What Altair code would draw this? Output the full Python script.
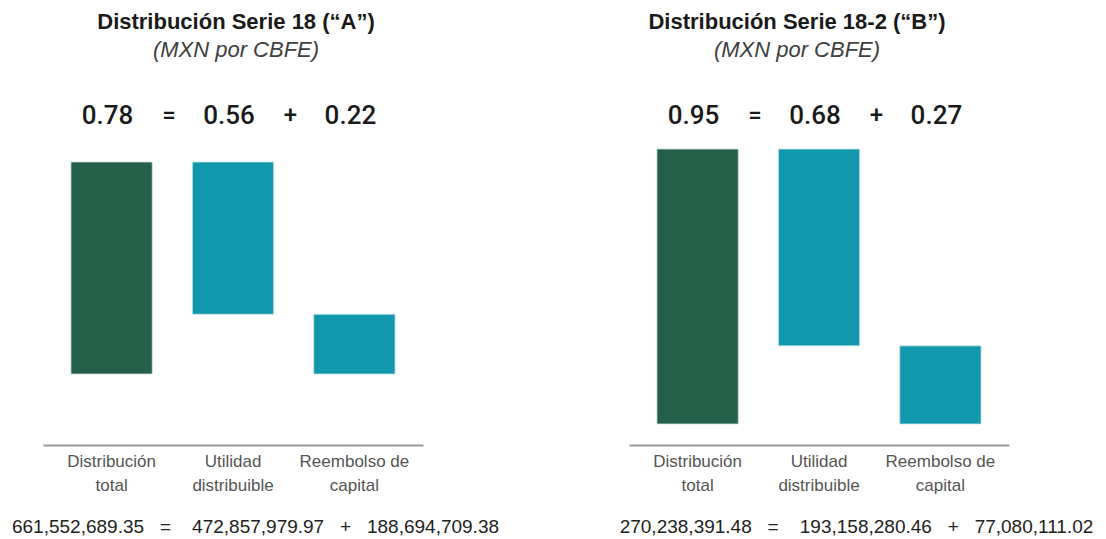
import altair as alt
import pandas as pd

# ---- data ----
categories = ["Distribución|total", "Utilidad|distribuible", "Reembolso de|capital"]
serie_a_values = [0.78, 0.56, 0.22]
serie_b_values = [0.95, 0.68, 0.27]
serie_a_mxn = ["661,552,689.35", "472,857,979.97", "188,694,709.38"]
serie_b_mxn = ["270,238,391.48", "193,158,280.46", "77,080,111.02"]
panel_titles = ["Distribución Serie 18 (“A”)", "Distribución Serie 18-2 (“B”)"]
panel_subtitle = "(MXN por CBFE)"
operators = ["=", "+"]

GREEN = "#245F49"
TEAL = "#1298AD"
NB = "\u00a0"


def panel(vals, mxn, title, y_domain, title_dx, axis_title_x):
    total, util, reemb = vals
    bars_df = pd.DataFrame({
        "cat": categories,
        "start": [0, total - util, 0],
        "end": [total, total, reemb],
        "kind": ["total", "part", "part"],
        "txt": [f"{v:.2f}" for v in vals],
    })
    ops_df = pd.DataFrame({"cat": categories[1:], "op": operators})
    bottom = (mxn[0] + NB * 3 + operators[0] + NB * 4 + mxn[1]
              + NB * 3 + operators[1] + NB * 3 + mxn[2])

    x_enc = alt.X(
        "cat:N",
        sort=categories,
        scale=alt.Scale(paddingInner=0.33, paddingOuter=0.23),
        axis=alt.Axis(
            title=bottom,
            titleX=axis_title_x,
            titleY=81,
            titleAlign="center",
            titleBaseline="middle",
            titleFont="Liberation Sans",
            titleFontSize=19,
            titleFontWeight="normal",
            titleColor="#222222",
            labelExpr="split(datum.label, '|')",
            labelAngle=0,
            labelFont="Liberation Sans",
            labelFontSize=17,
            labelColor="#555555",
            labelLineHeight=24,
            labelPadding=8,
            ticks=False,
            domainColor="#9a9a9a",
            domainWidth=2,
            grid=False,
        ),
    )
    y_scale = alt.Scale(domain=y_domain, nice=False, zero=False)

    bars = alt.Chart(bars_df).mark_bar(stroke="#cfe6e6", strokeWidth=0.8).encode(
        x=x_enc,
        y=alt.Y("start:Q", scale=y_scale, axis=None),
        y2="end:Q",
        color=alt.Color("kind:N", scale=alt.Scale(domain=["total", "part"], range=[GREEN, TEAL]), legend=None),
    )
    nums = alt.Chart(bars_df).mark_text(
        font="Roboto", fontSize=26, fontWeight=500, color="#1a1a1a", dx=-4, baseline="middle"
    ).encode(x=x_enc, y=alt.value(22), text="txt:N")
    ops = alt.Chart(ops_df).mark_text(
        font="Roboto", fontSize=24, fontWeight=500, color="#1a1a1a", dx=-64, baseline="middle"
    ).encode(x=x_enc, y=alt.value(22), text="op:N")

    return alt.layer(bars, nums, ops).properties(
        width=380,
        height=351,
        title=alt.TitleParams(
            text=title,
            subtitle=panel_subtitle,
            anchor="middle",
            dx=title_dx,
            font="Liberation Sans",
            fontSize=22,
            fontWeight="bold",
            color="#1a1a1a",
            subtitleFont="Liberation Sans",
            subtitleFontSize=22,
            subtitleFontStyle="italic",
            subtitleColor="#404040",
            subtitlePadding=6,
            offset=32,
        ),
    )


left = panel(serie_a_values, serie_a_mxn, panel_titles[0], [-0.261, 1.030], 3, 212)
right = panel(serie_b_values, serie_b_mxn, panel_titles[1], [-0.0725, 1.140], -22, 227)

chart = alt.hconcat(left, right, spacing=120).properties(
    padding={"left": 3, "top": 3, "right": 0, "bottom": 0}
).configure_view(stroke=None)

chart.save("out.html", embed_options={"renderer": "svg", "actions": False})
